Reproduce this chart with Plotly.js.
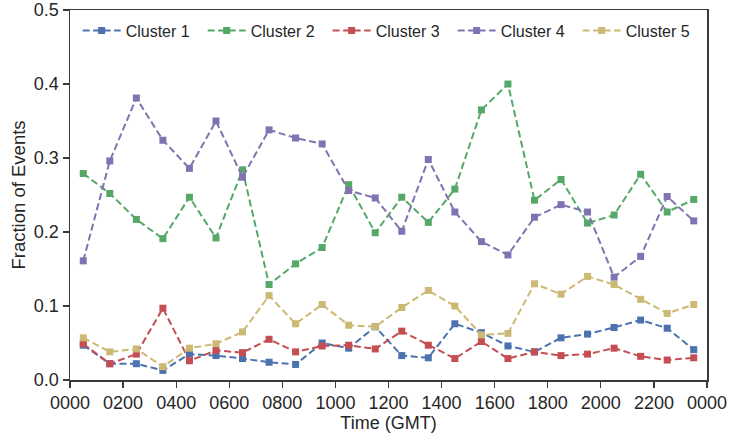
<!DOCTYPE html>
<html>
<head>
<meta charset="utf-8">
<script src="https://cdn.plot.ly/plotly-3.0.1.min.js"></script>
<style>html,body{margin:0;padding:0;background:#fff;}#chart{width:729px;height:436px;}</style>
</head>
<body>
<div id="chart"></div>
<script>
const hours = [50,150,250,350,450,550,650,750,850,950,1050,1150,1250,1350,1450,1550,1650,1750,1850,1950,2050,2150,2250,2350];
const tickVals = [0,200,400,600,800,1000,1200,1400,1600,1800,2000,2200,2400];
const tickLabels = ['0000','0200','0400','0600','0800','1000','1200','1400','1600','1800','2000','2200','0000'];
const yTickVals = [0,0.1,0.2,0.3,0.4,0.5];
const seriesNames = ['Cluster 1','Cluster 2','Cluster 3','Cluster 4','Cluster 5'];
const cluster1 = [0.047,0.022,0.022,0.013,0.035,0.033,0.029,0.024,0.021,0.050,0.043,0.072,0.033,0.030,0.076,0.064,0.046,0.038,0.057,0.062,0.071,0.081,0.070,0.041];
const cluster2 = [0.279,0.252,0.217,0.191,0.247,0.192,0.284,0.129,0.157,0.179,0.264,0.199,0.247,0.213,0.258,0.365,0.400,0.243,0.271,0.212,0.223,0.278,0.227,0.244];
const cluster3 = [0.049,0.022,0.035,0.097,0.026,0.040,0.037,0.055,0.038,0.046,0.047,0.042,0.066,0.047,0.029,0.052,0.029,0.038,0.033,0.035,0.043,0.032,0.027,0.030];
const cluster4 = [0.161,0.296,0.381,0.324,0.286,0.350,0.274,0.338,0.327,0.319,0.256,0.246,0.201,0.298,0.227,0.187,0.169,0.220,0.237,0.227,0.139,0.167,0.248,0.215];
const cluster5 = [0.057,0.038,0.042,0.018,0.043,0.049,0.065,0.114,0.076,0.102,0.074,0.072,0.098,0.121,0.100,0.061,0.063,0.130,0.116,0.140,0.129,0.109,0.090,0.102];
const seriesValues = [cluster1,cluster2,cluster3,cluster4,cluster5];
const colors = ['#4C72B0','#55A868','#C44E52','#8172B2','#CCB974'];

const traces = seriesValues.map((vals,i)=>({
  x: hours, y: vals, name: seriesNames[i], type:'scatter', mode:'lines+markers',
  line:{color:colors[i], width:2, dash:'7px,3.5px'},
  marker:{symbol:'square', size:7, color:colors[i]}
}));

const axisCommon = {
  showline:true, linecolor:'#3a3a3a', linewidth:1.5, mirror:true,
  ticks:'outside', ticklen:6, tickwidth:1.25, tickcolor:'#3a3a3a',
  showgrid:false, zeroline:false, ticklabeloverflow:'allow',
  tickfont:{size:18, color:'#262626'}
};

const layout = {
  width:729, height:436,
  margin:{l:70, r:22, t:10, b:56},
  paper_bgcolor:'#fff', plot_bgcolor:'#fff',
  font:{family:'Liberation Sans, Arial, sans-serif', color:'#262626'},
  showlegend:true,
  legend:{orientation:'h', x:0.012, y:0.99, xanchor:'left', yanchor:'top',
    font:{size:16, color:'#262626'}, bgcolor:'rgba(0,0,0,0)',
    entrywidth:72, entrywidthmode:'pixels', itemwidth:38},
  xaxis:Object.assign({}, axisCommon, {
    range:[0,2400], tickvals:tickVals, ticktext:tickLabels,
    title:{text:'Time (GMT)', font:{size:18, color:'#262626'}, standoff:4}
  }),
  yaxis:Object.assign({}, axisCommon, {
    range:[0,0.5], tickvals:yTickVals, tickformat:'.1f',
    title:{text:'Fraction of Events', font:{size:18.5, color:'#262626'}, standoff:3}
  })
};

Plotly.newPlot('chart', traces, layout, {displayModeBar:false, staticPlot:true});
</script>
</body>
</html>
